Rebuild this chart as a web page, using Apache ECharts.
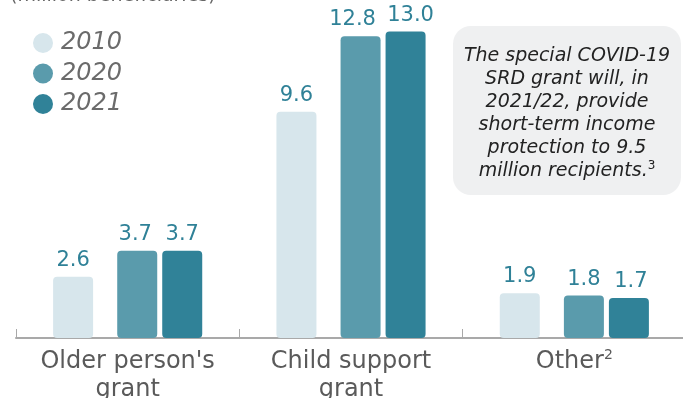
<!DOCTYPE html>
<html>
<head>
<meta charset="utf-8">
<script src="https://cdn.jsdelivr.net/npm/echarts@6/dist/echarts.min.js"></script>
<style>
  html, body { margin: 0; padding: 0; background: #ffffff; }
  #chart { width: 683px; height: 398px; }
</style>
</head>
<body>
<div id="chart"></div>
<script>
// Grant beneficiaries by grant type (million beneficiaries)
const categories = ["Older person's\ngrant", "Child support\ngrant", "Other{sup|2}"];
const years = ['2010', '2020', '2021'];
const values2010 = [2.6, 9.6, 1.9];
const values2020 = [3.7, 12.8, 1.8];
const values2021 = [3.7, 13.0, 1.7];
const yearColors = ['#d7e6ec', '#5a9bac', '#308298'];

const FONT = "'DejaVu Sans', Verdana, sans-serif";
const chart = echarts.init(document.getElementById('chart'), null, { renderer: 'canvas' });

// labelShift: horizontal nudge per category so neighbouring value labels don't collide
function barSeries(name, data, color, labelShift) {
  return {
    name: name,
    type: 'bar',
    data: data.map((v, i) => ({
      value: v,
      label: { offset: [labelShift ? labelShift[i] : 0, 0] }
    })),
    barWidth: 40,
    barGap: '12.5%',
    itemStyle: { color: color, borderRadius: 4 },
    label: {
      show: true,
      position: 'top',
      distance: 6,
      color: '#2f8197',
      fontFamily: FONT,
      fontSize: 21,
      formatter: p => p.value.toFixed(1)
    },
    emphasis: { disabled: true }
  };
}

const option = {
  animation: false,
  backgroundColor: '#ffffff',
  grid: { left: 16, right: -3, top: 8, bottom: 60, containLabel: false, outerBoundsMode: 'none' },
  legend: {
    data: years,
    orient: 'vertical',
    left: 33,
    top: 31,
    padding: 0,
    icon: 'circle',
    itemWidth: 20,
    itemHeight: 20,
    itemGap: 6.5,
    selectedMode: false,
    textStyle: { fontFamily: FONT, fontSize: 24, fontStyle: 'italic', color: '#6b6b6b', padding: [0, 0, 0, 3] }
  },
  xAxis: {
    type: 'category',
    data: categories,
    axisLine: { show: true, lineStyle: { color: '#a9a9a9', width: 2 } },
    axisTick: { show: true, inside: true, length: 9, lineStyle: { color: '#a9a9a9', width: 1 } },
    axisLabel: {
      margin: 10,
      interval: 0,
      fontFamily: FONT,
      fontSize: 24,
      lineHeight: 28,
      color: '#5a5a5a',
      rich: {
        sup: { fontFamily: FONT, fontSize: 14, color: '#5a5a5a', verticalAlign: 'top', lineHeight: 14 }
      }
    }
  },
  yAxis: {
    type: 'value',
    min: 0,
    max: 14,
    show: false,
    splitLine: { show: false }
  },
  series: [
    barSeries('2010', values2010, yearColors[0]),
    // empty column that widens the space between 2010 and the later years
    {
      name: 'spacer',
      type: 'bar',
      data: values2010.map(() => null),
      barWidth: 17,
      barGap: '12.5%',
      itemStyle: { color: 'rgba(0,0,0,0)' },
      label: { show: false },
      silent: true
    },
    barSeries('2020', values2020, yearColors[1], [-2, -8, 0]),
    barSeries('2021', values2021, yearColors[2], [0, 5, 2])
  ],
  graphic: [
    {
      type: 'text',
      left: 10,
      top: -13,
      style: {
        text: '(million beneficiaries)',
        font: '19px ' + FONT,
        fill: '#666666'
      }
    },
    {
      type: 'rect',
      shape: { x: 453, y: 26, width: 228, height: 169, r: 18 },
      style: { fill: '#eff0f1' }
    },
    {
      type: 'text',
      x: 567,
      y: 114,
      style: {
        text: 'The special COVID-19\nSRD grant will, in\n2021/22, provide\nshort-term income\nprotection to 9.5\nmillion recipients.{sup|3}',
        fontFamily: FONT,
        fontSize: 19,
        fontStyle: 'italic',
        lineHeight: 23,
        fill: '#222222',
        align: 'center',
        verticalAlign: 'middle',
        rich: {
          sup: { fontFamily: FONT, fontSize: 12, fill: '#222222', verticalAlign: 'top', lineHeight: 12 }
        }
      }
    }
  ]
};

chart.setOption(option);
</script>
</body>
</html>
